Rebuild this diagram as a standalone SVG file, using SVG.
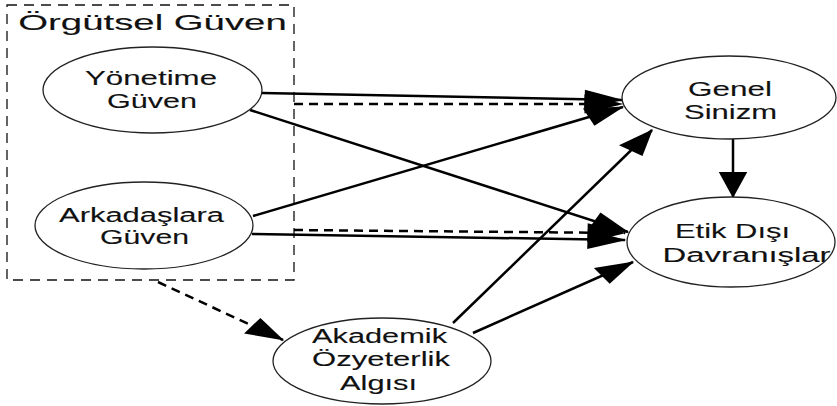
<svg xmlns="http://www.w3.org/2000/svg" width="837" height="406" viewBox="0 0 837 406">
<defs>
<style>
.node ellipse{fill:#fff;stroke:#222;stroke-width:1.3}
text{font-family:"Liberation Sans",Arial,sans-serif;font-size:21px;fill:#111;stroke:#111;stroke-width:0.12;text-anchor:middle}
.e{fill:none;stroke:#000;stroke-width:2.5;vector-effect:non-scaling-stroke;marker-end:url(#ah)}
.d{stroke-dasharray:9 6}
.box{fill:none;stroke:#111;stroke-width:1.3;stroke-dasharray:10 7}
</style>
<marker id="ah" markerUnits="userSpaceOnUse" viewBox="0 -10 26 20" refX="25" refY="0" markerWidth="26" markerHeight="20" orient="auto" overflow="visible">
<path d="M0,-9.5 L26,0 L0,9.5 z" fill="#000"/>
</marker>
</defs>
<rect fill="#fff" width="837" height="406"/>
<g id="cluster">
<rect class="box" x="7" y="5" width="287" height="275"/>
<text transform="translate(152.5,30) scale(1.5,1)" style="font-size:22px" textLength="179" lengthAdjust="spacingAndGlyphs">Örgütsel Güven</text>
</g>
<g id="connectors" transform="scale(1.5,1)">
<path class="e" d="M174.67,93 L414.67,100"/>
<path class="e d" d="M196,104 L414.67,104"/>
<path class="e" d="M166.67,110 L418.67,232"/>
<path class="e" d="M168.67,216 L415.33,107"/>
<path class="e" d="M168,234 L416.67,240"/>
<path class="e d" d="M196,230 L416.67,233"/>
<path class="e" d="M302,323 L434.67,130"/>
<path class="e" d="M315.33,333 L422,262"/>
<path class="e" d="M488.67,139 L488.67,197"/>
<path class="e d" d="M105.33,282 L188.67,340"/>
</g>
<g id="yonetime" class="node">
<ellipse cx="152.5" cy="90" rx="109.5" ry="43"/>
<text transform="translate(151,85) scale(1.5,1)" textLength="88" lengthAdjust="spacingAndGlyphs">Yönetime</text>
<text transform="translate(152,108) scale(1.5,1)" textLength="60" lengthAdjust="spacingAndGlyphs">Güven</text>
</g>
<g id="arkadaslara" class="node">
<ellipse cx="144" cy="225.5" rx="109" ry="43.5"/>
<text transform="translate(141.5,222) scale(1.5,1)" textLength="110" lengthAdjust="spacingAndGlyphs">Arkadaşlara</text>
<text transform="translate(144.5,244) scale(1.5,1)" textLength="59.3" lengthAdjust="spacingAndGlyphs">Güven</text>
</g>
<g id="genel" class="node">
<ellipse cx="729" cy="97.5" rx="107" ry="41.5"/>
<text transform="translate(730,96) scale(1.5,1)" textLength="56" lengthAdjust="spacingAndGlyphs">Genel</text>
<text transform="translate(730.5,119) scale(1.5,1)" textLength="62" lengthAdjust="spacingAndGlyphs">Sinizm</text>
</g>
<g id="etik" class="node">
<ellipse cx="731" cy="242" rx="104" ry="45"/>
<text transform="translate(732.5,238) scale(1.5,1)" textLength="76.7" lengthAdjust="spacingAndGlyphs">Etik Dışı</text>
<text transform="translate(746.5,262) scale(1.5,1)" textLength="112" lengthAdjust="spacingAndGlyphs">Davranışlar</text>
</g>
<g id="akademik" class="node">
<ellipse cx="382" cy="361" rx="109" ry="43"/>
<text transform="translate(379.5,343) scale(1.5,1)" textLength="90" lengthAdjust="spacingAndGlyphs">Akademik</text>
<text transform="translate(381,366) scale(1.5,1)" textLength="92" lengthAdjust="spacingAndGlyphs">Özyeterlik</text>
<text transform="translate(378.5,390) scale(1.5,1)" textLength="51.3" lengthAdjust="spacingAndGlyphs">Algısı</text>
</g>
</svg>
